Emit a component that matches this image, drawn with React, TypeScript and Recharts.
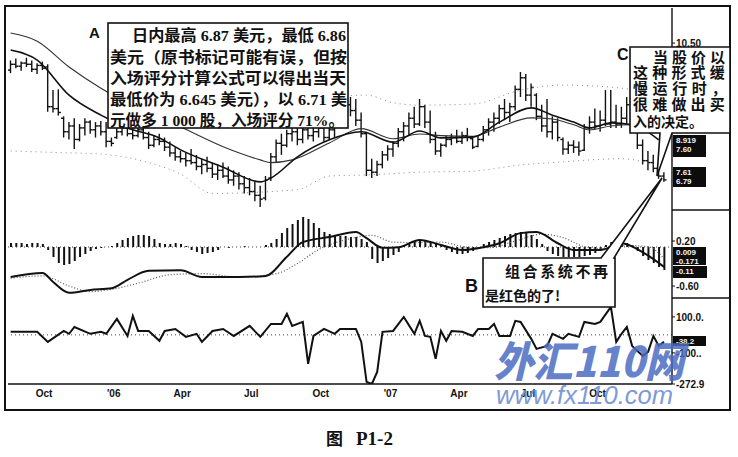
import React from "react";
import { ComposedChart, Bar, Line, XAxis, YAxis, ReferenceLine } from "recharts";

// weekly OHLC, mid Aug 2005 .. late Dec 2007 (week index 0..123)
const barHigh = [
  10.05, 10.1, 10.02, 10.12, 10.05, 9.98, 10.02, 9.95, 9.28, 9.3,
  8.6, 8.45, 8.55, 8.4, 8.55, 8.5, 8.45, 8.48, 8.45, 8.05,
  8.35, 8.45, 8.4, 8.3, 8.35, 8.32, 8.2, 8.1, 8.15, 8.05,
  7.95, 7.8, 7.7, 7.65, 7.75, 7.6, 7.5, 7.55, 7.4, 7.35,
  7.4, 7.3, 7.2, 7.15, 7.05, 7.0, 6.9, 6.8, 7.05, 7.65,
  8.0, 8.15, 8.25, 8.4, 8.45, 8.35, 8.4, 8.35, 8.45, 8.38,
  8.3, 8.7, 8.8, 9.0, 9.1, 9.05, 8.7, 8.2, 7.5, 7.45,
  7.7, 7.85, 7.95, 8.3, 8.45, 8.7, 8.85, 9.05, 8.9, 8.75,
  8.2, 7.9, 8.1, 8.15, 8.25, 8.2, 8.3, 8.05, 8.1, 8.35,
  8.55, 8.7, 8.9, 9.05, 8.95, 9.4, 9.75, 9.7, 9.45, 9.2,
  8.9, 9.05, 8.6, 8.55, 8.05, 7.95, 7.98, 7.95, 8.4, 8.6,
  8.8, 8.75, 9.28, 9.28, 8.9, 8.85, 9.1, 9.0, 8.3, 8.0,
  7.7, 7.6, 7.35, 7.15,
];
const barLow = [
  9.72, 9.85, 9.78, 9.88, 9.75, 9.7, 9.8, 8.72, 8.7, 8.62,
  8.05, 8.0, 7.75, 7.95, 8.1, 8.15, 8.05, 8.1, 7.8, 7.82,
  8.02, 8.1, 8.08, 8.0, 8.05, 8.0, 7.75, 7.8, 7.85, 7.7,
  7.55, 7.45, 7.4, 7.3, 7.35, 7.2, 7.1, 7.15, 7.0, 6.95,
  7.0, 6.85, 6.8, 6.7, 6.6, 6.55, 6.4, 6.25, 6.42, 6.92,
  7.4, 7.6, 7.8, 7.95, 7.85, 7.9, 8.0, 7.95, 8.05, 7.95,
  7.98, 8.05, 8.3, 8.4, 8.6, 8.35, 8.05, 7.05, 7.0, 7.05,
  7.25, 7.45, 7.55, 7.8, 7.95, 8.1, 8.3, 8.35, 8.3, 7.9,
  7.6, 7.55, 7.8, 7.85, 7.9, 7.88, 7.95, 7.75, 7.8, 7.95,
  8.1, 8.2, 8.4, 8.5, 8.45, 8.75, 9.1, 9.0, 8.85, 8.5,
  8.2, 8.05, 8.0, 7.95, 7.6, 7.62, 7.65, 7.58, 7.7, 8.15,
  8.25, 8.2, 8.35, 8.3, 8.3, 8.3, 8.4, 8.4, 7.75, 7.35,
  7.2, 7.15, 6.98, 6.9,
];
const barOpen = [
  9.8, 9.95, 9.9, 9.98, 9.95, 9.82, 9.92, 9.88, 8.85, 8.8,
  8.55, 8.2, 8.35, 8.0, 8.3, 8.45, 8.25, 8.35, 8.2, 7.95,
  8.05, 8.2, 8.3, 8.15, 8.1, 8.25, 8.05, 7.85, 8.0, 7.95,
  7.8, 7.65, 7.55, 7.5, 7.45, 7.4, 7.3, 7.35, 7.25, 7.1,
  7.2, 7.05, 6.95, 7.05, 6.85, 6.75, 6.65, 6.55, 6.48, 7.0,
  7.55, 7.9, 7.85, 8.15, 8.2, 8.0, 8.25, 8.1, 8.2, 8.3,
  8.05, 8.25, 8.55, 8.45, 8.9, 8.75, 8.5, 8.15, 7.2, 7.15,
  7.35, 7.6, 7.75, 7.9, 8.2, 8.35, 8.55, 8.4, 8.85, 8.45,
  8.0, 7.7, 7.85, 8.0, 8.05, 7.95, 8.1, 8.02, 7.82, 8.0,
  8.25, 8.45, 8.55, 8.8, 8.7, 8.85, 9.3, 9.6, 9.15, 9.15,
  8.6, 8.35, 8.2, 8.45, 8.0, 7.75, 7.85, 7.8, 7.72, 8.3,
  8.45, 8.35, 8.5, 8.4, 8.45, 8.4, 8.55, 8.9, 8.25, 7.85,
  7.45, 7.4, 7.25, 7.05,
];
const barClose = [
  9.95, 9.9, 9.98, 9.95, 9.82, 9.92, 9.85, 8.85, 8.8, 8.7,
  8.2, 8.35, 8.0, 8.3, 8.45, 8.25, 8.35, 8.2, 7.95, 7.9,
  8.2, 8.3, 8.15, 8.1, 8.25, 8.05, 7.85, 8.0, 7.95, 7.8,
  7.65, 7.55, 7.5, 7.45, 7.4, 7.3, 7.35, 7.25, 7.1, 7.2,
  7.05, 6.95, 7.05, 6.85, 6.75, 6.65, 6.55, 6.45, 6.95, 7.55,
  7.9, 7.85, 8.15, 8.2, 8.0, 8.25, 8.1, 8.2, 8.3, 8.05,
  8.25, 8.55, 8.45, 8.9, 8.75, 8.5, 8.15, 7.2, 7.15, 7.35,
  7.6, 7.75, 7.9, 8.2, 8.35, 8.55, 8.4, 8.85, 8.45, 8.0,
  7.7, 7.85, 8.0, 8.05, 7.95, 8.1, 8.05, 7.8, 8.0, 8.25,
  8.45, 8.55, 8.8, 8.7, 8.85, 9.3, 9.6, 9.15, 9.35, 8.6,
  8.35, 8.2, 8.45, 8.05, 7.75, 7.85, 7.8, 7.7, 8.3, 8.45,
  8.35, 8.5, 8.4, 8.45, 8.4, 8.55, 8.9, 8.5, 7.85, 7.45,
  7.4, 7.25, 7.05, 6.95,
];

// moving averages and envelopes, read at selected weeks
const slowMaWeek = [0, 5, 11, 17, 22, 28, 32, 40, 47, 49, 53, 60, 66, 72, 77, 81, 87, 92, 98, 102, 106, 109, 113, 117, 122];
const slowMaValue = [10.76, 10.55, 9.88, 9.33, 8.95, 8.56, 8.32, 7.81, 7.47, 7.4, 7.47, 7.91, 8.28, 8.02, 8.14, 8.1, 8.08, 8.32, 8.56, 8.53, 8.38, 8.25, 8.35, 8.38, 8.2];
const fastMaWeek = [0, 5, 11, 17, 22, 28, 32, 40, 47, 49, 54, 60, 66, 72, 77, 81, 87, 92, 98, 102, 106, 109, 113, 117, 122];
const fastMaValue = [10.32, 10.06, 9.15, 8.63, 8.3, 8.04, 7.73, 7.28, 6.9, 7.0, 7.55, 7.99, 8.2, 7.93, 8.22, 8.04, 8.06, 8.45, 8.82, 8.63, 8.45, 8.3, 8.43, 8.38, 7.99];
const upperEnvWeek = [50, 53, 60, 67, 72, 77, 87, 96, 104, 115, 122];
const upperEnvValue = [8.95, 9.02, 9.1, 9.15, 8.95, 8.89, 8.92, 9.28, 9.41, 9.33, 9.15];
const lowerEnvWeek = [0, 9, 17, 26, 32, 38, 54, 60, 67, 77, 87, 96, 104, 115, 122];
const lowerEnvValue = [7.7, 7.66, 7.62, 7.4, 7.1, 6.6, 6.7, 7.05, 7.08, 7.15, 7.18, 7.34, 7.42, 7.5, 7.3];

// MACD
const macdWeek = [0, 6, 8, 11, 15, 19, 22, 26, 32, 36, 43, 48, 52, 55, 60, 65, 67, 70, 73, 77, 81, 85, 89, 92, 96, 99, 103, 106, 111, 115, 119, 123];
const macdValue = [-0.44, -0.37, -0.53, -0.72, -0.67, -0.64, -0.49, -0.33, -0.32, -0.44, -0.44, -0.42, -0.08, 0.18, 0.27, 0.36, 0.25, 0.08, 0.09, 0.22, 0.13, 0.04, 0.09, 0.16, 0.34, 0.36, 0.16, 0.04, 0.04, 0.16, 0.0, -0.26];
const signalWeek = [0, 6, 11, 15, 19, 24, 30, 36, 43, 50, 54, 58, 63, 68, 72, 77, 81, 86, 90, 95, 100, 104, 108, 112, 116, 120, 123];
const signalValue = [-0.46, -0.42, -0.6, -0.7, -0.66, -0.55, -0.4, -0.38, -0.44, -0.38, -0.2, 0.05, 0.22, 0.3, 0.18, 0.17, 0.18, 0.09, 0.08, 0.2, 0.32, 0.26, 0.1, 0.06, 0.12, 0.1, -0.12];
const macdHist = [
  0.04, 0.04, 0.04, 0.03, 0.04, 0.04, 0.03,
  -0.03, -0.1, -0.16, -0.18, -0.17, -0.14, -0.1, -0.07, -0.04, -0.02,
  -0.01, 0.0, 0.01,
  0.04, 0.07, 0.09, 0.11, 0.12, 0.12, 0.11, 0.08, 0.04, 0.03, 0.03, 0.04, 0.03, 0.01,
  -0.03, -0.05, -0.07, -0.06, -0.05, -0.03,
  0.0, -0.01, 0.0, 0.0, 0.01, 0.0, 0.0, 0.0,
  0.02, 0.04, 0.08, 0.14, 0.19, 0.23, 0.27, 0.3, 0.28, 0.24, 0.19, 0.15, 0.13, 0.12, 0.11, 0.11, 0.1, 0.1, 0.08, 0.05,
  -0.12, -0.16, -0.14, -0.11, -0.08, -0.05,
  0.02, 0.04, 0.05, 0.06, 0.06, 0.05, 0.04, 0.02,
  -0.03, -0.05, -0.07, -0.07, -0.06, -0.04, -0.02,
  0.03, 0.05, 0.07, 0.09, 0.11, 0.13, 0.14, 0.15, 0.14, 0.12, 0.08, 0.03,
  -0.04, -0.07, -0.09, -0.1, -0.1, -0.1, -0.1, -0.09, -0.08, -0.06, -0.03,
  0.02, 0.05, 0.06, 0.05, 0.04, 0.02,
  -0.04, -0.09, -0.13, -0.16, -0.2, -0.23,
];

// CCI
const cciWeek = [0, 5, 7, 10, 11, 12, 15, 17, 18, 20, 22, 23, 24, 26, 28, 29, 31, 33, 35, 36, 38, 40, 42, 45, 47, 49, 51, 52, 53, 55, 56, 57, 59, 61, 62, 65, 66, 67, 68, 69, 70, 72, 74, 76, 77, 78, 79, 80, 81, 82, 83, 85, 87, 88, 90, 91, 92, 94, 95, 96, 98, 99, 101, 102, 104, 105, 107, 108, 110, 111, 113, 114, 115, 116, 117, 119, 120, 121, 122, 123];
const cciValue = [17, 17, -39, 22, 6, 44, 6, 17, 6, 89, -6, 106, 22, 22, -33, 22, 33, -11, 6, -39, 22, 33, -6, 50, -11, 61, 61, 117, 50, 72, -161, -6, 33, 6, 33, 33, -39, -261, -272.9, -206, 17, 22, 100, 6, 78, -6, -11, -133, 22, -33, 22, 17, -6, 33, 33, 61, -6, -6, 78, 72, -22, -78, -61, 6, -22, 6, -11, 72, 61, 72, 156, -39, 6, 44, -61, -117, -94, -6, -61, -39];

// axis ticks
const tickWeeks = [6.8, 19.9, 32.8, 45.8, 58.9, 72.0, 84.9, 97.9, 111.0];
const tickLabels = ["Oct", "'06", "Apr", "Jul", "Oct", "'07", "Apr", "Jul", "Oct"];
const priceTicks = [10.5];
const priceTickLabels = ["10.50"];
const macdTicks = [0.2, -0.6];
const macdTickLabels = ["0.20", "-0.60"];
const cciTicks = [100, -100, -200, -272.9];
const cciTickLabels = ["100.0.", "-100..", "-200..", "-272.9"];

const rows = barHigh.map((h, i) => ({
  w: i + 0.5,
  high: h,
  low: barLow[i],
  open: barOpen[i],
  close: barClose[i],
  range: [barLow[i], h],
  hist: macdHist[i],
}));
const pts = (ws: number[], vs: number[]) => ws.map((w, i) => ({ w: w + 0.5, v: vs[i] }));

const X_DOMAIN = [0, 125];
const INK = "#111";
const SANS = "'Liberation Sans', Arial, sans-serif";
const CJK = "'Liberation Serif', 'Noto Sans CJK SC', serif";
const CJK_ONLY = "'Noto Sans CJK SC', sans-serif";

function OhlcBar(props: any) {
  const { x, y, width, height, payload } = props;
  if (!payload || x == null) return null;
  const top = Math.min(y, y + height);
  const h = Math.abs(height);
  const span = payload.high - payload.low || 1;
  const at = (v: number) => top + ((payload.high - v) / span) * h;
  const cx = x + width / 2;
  return (
    <g stroke={INK} strokeWidth={1.4}>
      <line x1={cx} x2={cx} y1={top} y2={top + h} />
      <line x1={cx - 2.6} x2={cx} y1={at(payload.open)} y2={at(payload.open)} />
      <line x1={cx} x2={cx + 2.6} y1={at(payload.close)} y2={at(payload.close)} />
    </g>
  );
}

const rightTick = (ticks: number[], labels: string[]) => (p: any) => (
  <text x={p.x} y={p.y + 4} fontSize={10} fontWeight={700} fill={INK} fontFamily={SANS}>
    {labels[ticks.indexOf(p.payload.value)]}
  </text>
);

const XTick = (p: any) => (
  <text x={p.x} y={p.y + 11} textAnchor="middle" fontSize={10} fontWeight={700} fill={INK} fontFamily={SANS}>
    {tickLabels[tickWeeks.indexOf(p.payload.value)]}
  </text>
);

const margin = { top: 0, right: 0, bottom: 0, left: 8 };

function ValueTag({ x, y, w, h, lines }: { x: number; y: number; w: number; h: number; lines: string[] }) {
  return (
    <g>
      <rect x={x} y={y} width={w} height={h} fill="#0c0c0c" />
      {lines.map((t, i) => (
        <text key={i} x={x + 3} y={y + 8 + i * 9} fontSize={8} fontWeight={700} fill="#f2f2f2" fontFamily={SANS}>
          {t}
        </text>
      ))}
    </g>
  );
}

export default function App() {
  const cjk = { fontFamily: CJK, fontWeight: 700, fill: INK } as const;
  const cjkC = { fontFamily: CJK_ONLY, fontWeight: 700, fill: INK, fontSize: 15 } as const;
  return (
    <div style={{ position: "absolute", left: 0, top: 0, width: 738, height: 457, background: "#fff", overflow: "hidden" }}>
      {/* price panel */}
      <div style={{ position: "absolute", left: 0, top: 8 }}>
        <ComposedChart width={738} height={202} data={rows} margin={margin}>
          <XAxis type="number" dataKey="w" domain={X_DOMAIN} hide allowDataOverflow />
          <YAxis
            yAxisId="p"
            orientation="right"
            width={66}
            domain={[6.17, 11.41]}
            allowDataOverflow
            ticks={priceTicks}
            tickSize={3}
            tickMargin={1}
            axisLine={{ stroke: INK, strokeWidth: 1.4 }}
            tickLine={{ stroke: INK }}
            tick={rightTick(priceTicks, priceTickLabels)}
          />
          <Line yAxisId="p" data={pts(upperEnvWeek, upperEnvValue)} dataKey="v" type="monotone" stroke="#8a8a8a" strokeDasharray="1 4" strokeWidth={1} dot={false} isAnimationActive={false} />
          <Line yAxisId="p" data={pts(lowerEnvWeek, lowerEnvValue)} dataKey="v" type="monotone" stroke="#8a8a8a" strokeDasharray="1 4" strokeWidth={1} dot={false} isAnimationActive={false} />
          <Line yAxisId="p" data={pts(slowMaWeek, slowMaValue)} dataKey="v" type="monotone" stroke="#333" strokeWidth={1.1} dot={false} isAnimationActive={false} />
          <Line yAxisId="p" data={pts(fastMaWeek, fastMaValue)} dataKey="v" type="monotone" stroke={INK} strokeWidth={1.6} dot={false} isAnimationActive={false} />
          <Bar yAxisId="p" dataKey="range" barSize={3} shape={(p: any) => <OhlcBar {...p} />} isAnimationActive={false} />
        </ComposedChart>
      </div>

      {/* MACD panel */}
      <div style={{ position: "absolute", left: 0, top: 210 }}>
        <ComposedChart width={738} height={88} data={rows} margin={margin}>
          <XAxis type="number" dataKey="w" domain={X_DOMAIN} hide allowDataOverflow />
          <YAxis
            yAxisId="m"
            orientation="right"
            width={66}
            domain={[-0.813, 0.751]}
            allowDataOverflow
            ticks={macdTicks}
            tickSize={3}
            tickMargin={1}
            axisLine={{ stroke: INK, strokeWidth: 1.4 }}
            tickLine={{ stroke: INK }}
            tick={rightTick(macdTicks, macdTickLabels)}
          />
          <YAxis yAxisId="h" hide domain={[-0.51, 0.37]} allowDataOverflow />
          <ReferenceLine yAxisId="h" y={0} stroke="#444" strokeDasharray="1 3" />
          <Bar yAxisId="h" dataKey="hist" barSize={2} fill={INK} isAnimationActive={false} />
          <Line yAxisId="m" data={pts(signalWeek, signalValue)} dataKey="v" type="monotone" stroke="#555" strokeDasharray="1 2" strokeWidth={1.2} dot={false} isAnimationActive={false} />
          <Line yAxisId="m" data={pts(macdWeek, macdValue)} dataKey="v" type="monotone" stroke={INK} strokeWidth={2} dot={false} isAnimationActive={false} />
        </ComposedChart>
      </div>

      {/* CCI panel with the date axis */}
      <div style={{ position: "absolute", left: 0, top: 298 }}>
        <ComposedChart width={738} height={110} data={rows} margin={margin}>
          <XAxis
            type="number"
            dataKey="w"
            domain={X_DOMAIN}
            allowDataOverflow
            ticks={tickWeeks}
            interval={0}
            height={24}
            tickSize={2}
            tickMargin={0}
            tickLine={false}
            axisLine={{ stroke: INK, strokeWidth: 1.6 }}
            tick={XTick}
          />
          <YAxis
            yAxisId="c"
            orientation="right"
            width={66}
            domain={[-272.9, 205]}
            allowDataOverflow
            ticks={cciTicks}
            tickSize={3}
            tickMargin={1}
            axisLine={{ stroke: INK, strokeWidth: 1.4 }}
            tickLine={{ stroke: INK }}
            tick={rightTick(cciTicks, cciTickLabels)}
          />
          <ReferenceLine yAxisId="c" y={0} stroke="#444" strokeDasharray="1 3" />
          <Line yAxisId="c" data={pts(cciWeek, cciValue)} dataKey="v" type="linear" stroke={INK} strokeWidth={2} dot={false} isAnimationActive={false} />
        </ComposedChart>
      </div>

      {/* frame, callouts, tags, watermark and caption */}
      <svg width={738} height={457} style={{ position: "absolute", left: 0, top: 0 }}>
        <rect x={5} y={6} width={725} height={404} fill="none" stroke={INK} strokeWidth={2} />
        <line x1={672} x2={730} y1={210} y2={210} stroke={INK} strokeWidth={1.4} />
        <line x1={672} x2={730} y1={298} y2={298} stroke={INK} strokeWidth={1.4} />

        <ValueTag x={673} y={135} w={33} h={22} lines={["8.919", "7.60"]} />
        <ValueTag x={673} y={167} w={33} h={20} lines={["7.61", "6.79"]} />
        <ValueTag x={673} y={247} w={33} h={9} lines={["0.009"]} />
        <ValueTag x={673} y={256} w={33} h={9} lines={["-0.171"]} />
        <ValueTag x={673} y={266} w={34} h={12} lines={["-0.11"]} />
        <ValueTag x={673} y={336} w={33} h={10} lines={["-38.2"]} />

        {/* A */}
        <text x={89} y={38} fontSize={15} fontWeight={700} fill={INK} fontFamily={SANS}>A</text>
        <rect x={108} y={23} width={240} height={105} fill="#fff" stroke={INK} strokeWidth={1.6} />
        <g fontSize={15.5} {...cjk}>
          <text x={132} y={41} textLength={214} lengthAdjust="spacingAndGlyphs">日内最高 6.87 美元，最低 6.86</text>
          <text x={110} y={63} textLength={237} lengthAdjust="spacingAndGlyphs">美元（原书标记可能有误，但按</text>
          <text x={110} y={84} textLength={236} lengthAdjust="spacingAndGlyphs">入场评分计算公式可以得出当天</text>
          <text x={110} y={105} textLength={237} lengthAdjust="spacingAndGlyphs">最低价为 6.645 美元），以 6.71 美</text>
          <text x={110} y={126} textLength={234} lengthAdjust="spacingAndGlyphs">元做多 1 000 股，入场评分 71%。</text>
        </g>

        {/* C */}
        <text x={617} y={60} fontSize={16} fontWeight={700} fill={INK} fontFamily={SANS}>C</text>
        <path d="M630,47 H730 V133 H672 L657,176 L660,133 H630 Z" fill="#fff" stroke={INK} strokeWidth={1.6} />
        <g {...cjkC}>
          <text x={653} y={63} letterSpacing={4}>当股价以</text>
          <text x={633} y={78} letterSpacing={4.2}>这种形式缓</text>
          <text x={633} y={94} letterSpacing={4.6}>慢运行时，</text>
          <text x={633} y={110} letterSpacing={4.2}>很难做出买</text>
          <text x={633} y={127} fontSize={14} letterSpacing={0}>入的决定。</text>
        </g>

        {/* B */}
        <text x={465} y={292} fontSize={18} fontWeight={700} fill={INK} fontFamily={SANS}>B</text>
        <path d="M483,258 L601,258 L662,178 L614,258 L615,258 L615,307 L483,307 Z" fill="#fff" stroke={INK} strokeWidth={1.6} />
        <g fontFamily={CJK_ONLY} fontWeight={700} fill={INK} fontSize={15}>
          <text x={505} y={277} letterSpacing={2.6}>组合系统不再</text>
          <text x={485} y={301} fontSize={14}>是红色的了!</text>
        </g>

        {/* site watermark */}
        <text x={494} y={377} fontSize={42} fontWeight={900} fontStyle="italic" fill="#4a6cc2" fillOpacity={0.85} fontFamily={CJK_ONLY} textLength={190} lengthAdjust="spacingAndGlyphs">外汇110网</text>
        <text x={496} y={404} fontSize={25} fontStyle="italic" fill="#6d8cd3" fillOpacity={0.9} fontFamily={SANS} textLength={177} lengthAdjust="spacingAndGlyphs">www.fx110.com</text>

        {/* caption */}
        <text x={326} y={445} fontSize={17} fontWeight={700} fill={INK} fontFamily={CJK_ONLY}>图</text>
        <text x={356} y={445} fontSize={19} fontWeight={700} fill={INK} fontFamily="'Liberation Serif', serif">P1-2</text>
      </svg>
    </div>
  );
}
